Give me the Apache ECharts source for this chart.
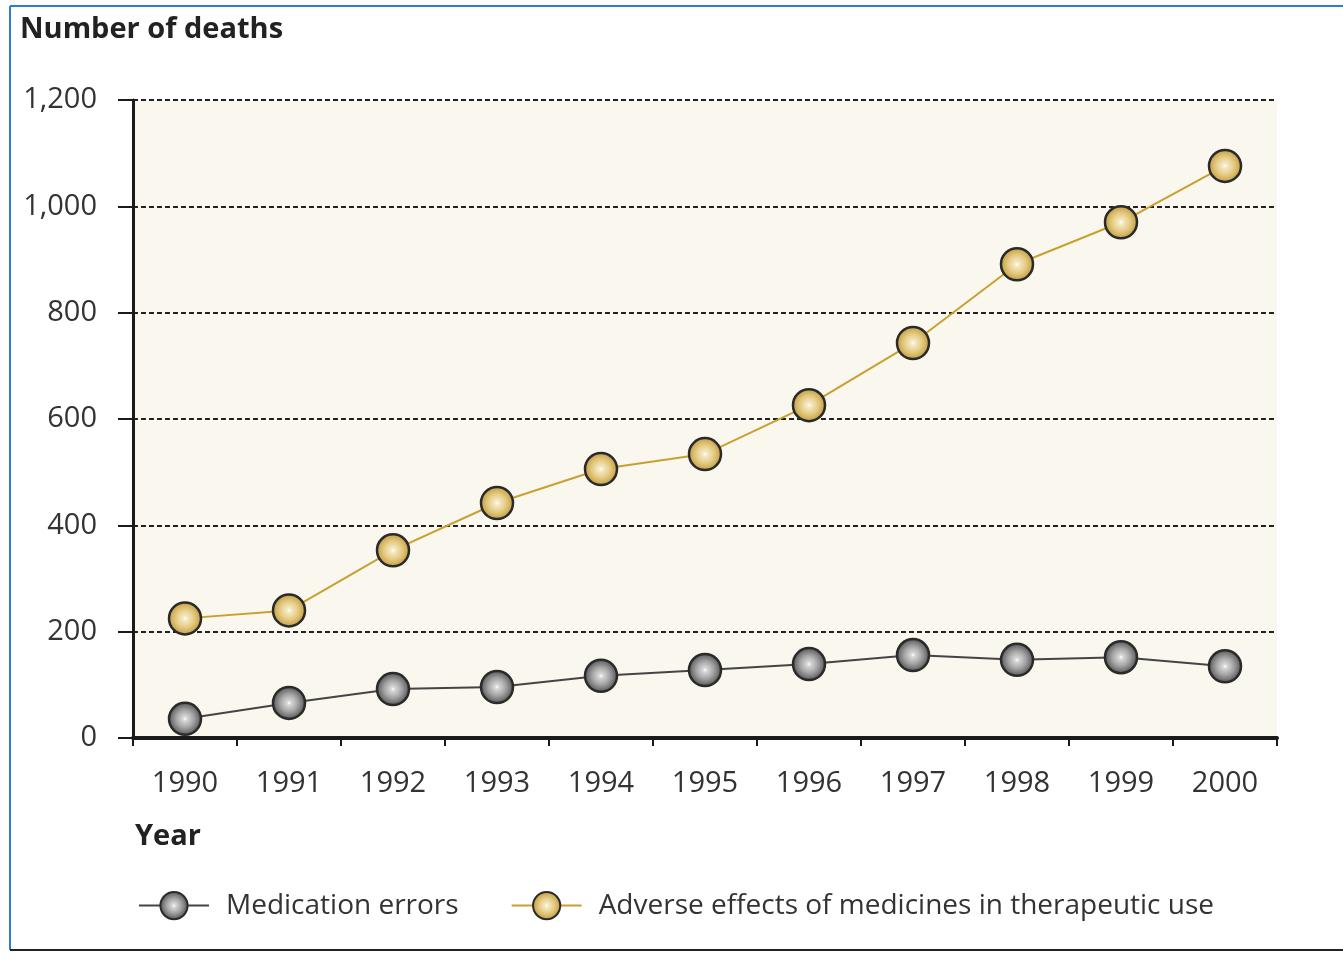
<!DOCTYPE html>
<html>
<head>
<meta charset="utf-8">
<script src="https://cdn.jsdelivr.net/npm/echarts@6/dist/echarts.min.js"></script>
<style>
html,body{margin:0;padding:0;background:#fff;}
#chart{width:1343px;height:964px;}
</style>
</head>
<body>
<div id="chart"></div>
<script>
const years = ['1990','1991','1992','1993','1994','1995','1996','1997','1998','1999','2000'];
const medicationErrors = [36, 66, 92, 96, 117, 128, 139, 156, 147, 152, 135];
const adverseEffects = [225, 240, 353, 442, 506, 534, 626, 743, 891, 970, 1076];
const yTicks = [0, 200, 400, 600, 800, 1000, 1200];

const FONT = '"Open Sans", "Noto Sans", sans-serif';
const chart = echarts.init(document.getElementById('chart'));

const greyFill = {
  type: 'radial', x: 0.5, y: 0.5, r: 0.5,
  colorStops: [
    {offset: 0, color: '#ffffff'},
    {offset: 0.12, color: '#d8d8d8'},
    {offset: 0.5, color: '#a5a5a5'},
    {offset: 1, color: '#4e4e4e'}
  ]
};
const goldFill = {
  type: 'radial', x: 0.5, y: 0.5, r: 0.5,
  colorStops: [
    {offset: 0, color: '#ffffff'},
    {offset: 0.12, color: '#f6ebc8'},
    {offset: 0.55, color: '#e3c87e'},
    {offset: 1, color: '#bf983a'}
  ]
};

chart.setOption({
  backgroundColor: '#ffffff',
  animation: false,
  textStyle: {fontFamily: FONT},
  grid: {
    left: 133, right: 66, top: 100, bottom: 226,
    show: true, backgroundColor: '#faf7ef', borderWidth: 0
  },
  legend: {
    left: 133, top: 886,
    itemWidth: 70, itemHeight: 34, itemGap: 52,
    textStyle: {fontSize: 28, color: '#333', fontFamily: FONT, padding: [0, 0, 0, 12]},
    data: ['Medication errors', 'Adverse effects of medicines in therapeutic use']
  },
  xAxis: {
    type: 'category',
    data: years,
    boundaryGap: true,
    axisLine: {lineStyle: {color: '#1a1a1a', width: 4}},
    axisTick: {show: true, length: 8, lineStyle: {color: '#1a1a1a', width: 2}},
    axisLabel: {fontSize: 29, color: '#333', margin: 31, fontFamily: FONT},
    splitLine: {show: false}
  },
  yAxis: {
    type: 'value',
    min: 0, max: 1200, interval: 200,
    axisLine: {show: true, lineStyle: {color: '#1a1a1a', width: 3}},
    axisTick: {show: true, length: 15, lineStyle: {color: '#1a1a1a', width: 2}},
    axisLabel: {
      fontSize: 29, color: '#333', margin: 36, fontFamily: FONT,
      padding: [0, 0, 9, 0],
      formatter: v => yTicks.includes(v) ? v.toLocaleString('en-US') : ''
    },
    splitLine: {show: true, lineStyle: {color: '#222', width: 2, type: [5, 3]}}
  },
  series: [
    {
      name: 'Medication errors',
      type: 'line',
      data: medicationErrors,
      symbol: 'circle',
      symbolSize: 32,
      lineStyle: {color: '#444', width: 2},
      itemStyle: {color: greyFill, borderColor: '#2a2a2a', borderWidth: 2.5}
    },
    {
      name: 'Adverse effects of medicines in therapeutic use',
      type: 'line',
      data: adverseEffects,
      symbol: 'circle',
      symbolSize: 32,
      lineStyle: {color: '#c9a030', width: 2},
      itemStyle: {color: goldFill, borderColor: '#2a2a2a', borderWidth: 2.5}
    }
  ],
  graphic: [
    {type: 'line', shape: {x1: 10, y1: 6, x2: 1343, y2: 6}, style: {stroke: '#2a7fd4', lineWidth: 2}},
    {type: 'line', shape: {x1: 10, y1: 6, x2: 10, y2: 950}, style: {stroke: '#2a7fd4', lineWidth: 2}},
    {type: 'line', shape: {x1: 10, y1: 950, x2: 1343, y2: 950}, style: {stroke: '#222', lineWidth: 2}},
    {type: 'text', left: 20, top: 15, style: {text: 'Number of deaths', font: 'bold 29px ' + FONT, fill: '#222'}},
    {type: 'text', left: 135, top: 822, style: {text: 'Year', font: 'bold 29px ' + FONT, fill: '#222'}}
  ]
});
</script>
</body>
</html>
